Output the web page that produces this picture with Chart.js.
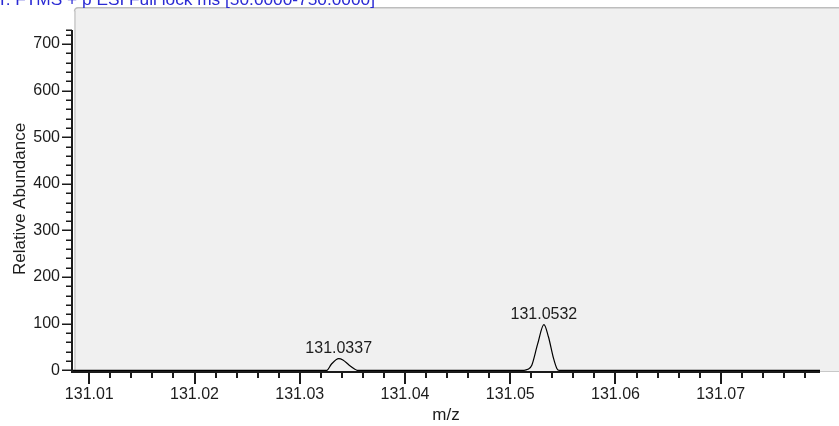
<!DOCTYPE html>
<html>
<head>
<meta charset="utf-8">
<title>Spectrum</title>
<script src="https://cdn.jsdelivr.net/npm/chart.js@4.4.1/dist/chart.umd.min.js"></script>
<style>
  html, body { margin: 0; padding: 0; background: #ffffff; }
  canvas { display: block; }
</style>
</head>
<body>
<canvas id="spectrum" width="839" height="426"></canvas>
<script>
// Profile trace (m/z vs relative abundance)
const mzValues        = [131.00836, 131.03257, 131.0330, 131.0337, 131.0341, 131.0347, 131.0352, 131.03545,
                         131.05132, 131.05167, 131.05205, 131.0526, 131.0532, 131.05363, 131.05411, 131.05443, 131.05465, 131.07944];
const abundanceValues = [0, 0, 13, 25, 22, 11, 3, 0,
                         0, 2, 11, 56, 98, 72, 26, 4, 0, 0];

// Labelled centroids
const peakMz        = [131.0337, 131.0532];
const peakAbundance = [25, 98];

// Axis ticks and labels
const xTickValues = [131.01, 131.02, 131.03, 131.04, 131.05, 131.06, 131.07];
const xTickLabels = ['131.01', '131.02', '131.03', '131.04', '131.05', '131.06', '131.07'];
const yTickValues = [0, 100, 200, 300, 400, 500, 600, 700];
const yTickLabels = ['0', '100', '200', '300', '400', '500', '600', '700'];

const scanFilter = 'T: FTMS + p ESI Full lock ms [50.0000-750.0000]';
const FONT = 'Arial, "Liberation Sans", sans-serif';
const TEXT = '#1c1c1c';

const xMin = 131.008356, xMax = 131.079437;
const yMin = -3.65, yMax = 779.5;
const yAxisEnd = 730;

// keep the plot area exactly where the layout padding puts it
function noScalePadding(s) {
  s.paddingTop = 0;
  s.paddingBottom = 0;
  s.paddingLeft = 0;
  s.paddingRight = 0;
}

const framePlugin = {
  id: 'frame',
  beforeDraw(chart) {
    const { ctx, chartArea: a, width, height } = chart;
    ctx.save();
    ctx.fillStyle = '#ffffff';
    ctx.fillRect(0, 0, width, height);

    // plot panel
    ctx.fillStyle = '#f0f0f0';
    ctx.beginPath();
    ctx.moveTo(a.left + 2, a.bottom);
    ctx.lineTo(a.left + 2, a.top + 4);
    ctx.arcTo(a.left + 2, a.top, a.left + 6, a.top, 4);
    ctx.lineTo(width, a.top);
    ctx.lineTo(width, a.bottom);
    ctx.closePath();
    ctx.fill();

    ctx.strokeStyle = '#d4d4d4';
    ctx.lineWidth = 2;
    ctx.beginPath();
    ctx.moveTo(a.left + 3, a.bottom);
    ctx.lineTo(a.left + 3, a.top + 4);
    ctx.stroke();

    ctx.strokeStyle = '#bdbdbd';
    ctx.lineWidth = 1.5;
    ctx.beginPath();
    ctx.moveTo(a.left + 2.5, a.top + 4);
    ctx.arcTo(a.left + 2.5, a.top + 0.75, a.left + 6, a.top + 0.75, 3.5);
    ctx.lineTo(width, a.top + 0.75);
    ctx.stroke();

    ctx.strokeStyle = '#c8c8c8';
    ctx.lineWidth = 1;
    ctx.beginPath();
    ctx.moveTo(a.right, a.bottom - 0.5);
    ctx.lineTo(width, a.bottom - 0.5);
    ctx.stroke();

    // scan header
    ctx.fillStyle = '#2a2ad4';
    ctx.font = '17.3px ' + FONT;
    ctx.textAlign = 'left';
    ctx.textBaseline = 'alphabetic';
    ctx.fillText(scanFilter, -3, 5);
    ctx.restore();
  },
  afterDraw(chart) {
    const { ctx, chartArea: a, scales: { x, y } } = chart;
    ctx.save();
    ctx.strokeStyle = '#1a1a1a';

    // y axis line and ticks
    const yTop = y.getPixelForValue(yAxisEnd);
    ctx.lineWidth = 2;
    ctx.beginPath();
    ctx.moveTo(a.left, yTop);
    ctx.lineTo(a.left, a.bottom + 1);
    ctx.stroke();
    ctx.lineWidth = 1.5;
    for (let v = 0; v <= yAxisEnd; v += 10) {
      if (v % 20 !== 0 && v !== yAxisEnd) continue;
      const py = Math.round(y.getPixelForValue(v)) + 0.25;
      const len = (v % 100 === 0) ? 10 : 6;
      ctx.beginPath();
      ctx.moveTo(a.left - len, py);
      ctx.lineTo(a.left, py);
      ctx.stroke();
    }

    // x axis line and ticks
    ctx.lineWidth = 2;
    ctx.beginPath();
    ctx.moveTo(a.left - 1, a.bottom);
    ctx.lineTo(a.right, a.bottom);
    ctx.stroke();
    for (let i = 0; i <= 34; i++) {
      const v = 131.010 + i * 0.002;
      const px = Math.round(x.getPixelForValue(v));
      const len = (i % 5 === 0) ? 12 : 6;
      ctx.beginPath();
      ctx.moveTo(px, a.bottom);
      ctx.lineTo(px, a.bottom + len);
      ctx.stroke();
    }

    // y axis title
    ctx.fillStyle = TEXT;
    ctx.font = '17px ' + FONT;
    ctx.save();
    ctx.translate(20, 199);
    ctx.rotate(-Math.PI / 2);
    ctx.textAlign = 'center';
    ctx.textBaseline = 'middle';
    ctx.fillText('Relative Abundance', 0, 0);
    ctx.restore();

    // peak annotations
    ctx.font = '16px ' + FONT;
    ctx.textAlign = 'center';
    ctx.textBaseline = 'alphabetic';
    peakMz.forEach((m, i) => {
      const px = x.getPixelForValue(m);
      const py = y.getPixelForValue(peakAbundance[i]);
      ctx.fillText(m.toFixed(4), px, py - 6);
    });
    ctx.restore();
  }
};

new Chart(document.getElementById('spectrum'), {
  type: 'line',
  data: {
    datasets: [{
      data: mzValues.map((m, i) => ({ x: m, y: abundanceValues[i] })),
      borderColor: '#000000',
      borderWidth: 1.2,
      pointRadius: 0,
      fill: false,
      cubicInterpolationMode: 'monotone'
    }]
  },
  options: {
    responsive: false,
    animation: false,
    devicePixelRatio: 1,
    layout: { padding: { top: 7, right: 19, left: 0, bottom: 0 } },
    plugins: { legend: { display: false }, tooltip: { enabled: false } },
    scales: {
      x: {
        type: 'linear',
        min: xMin,
        max: xMax,
        afterBuildTicks: s => { s.ticks = xTickValues.map(v => ({ value: v })); },
        afterFit: s => { s.height = 54; noScalePadding(s); },
        grid: { display: false, drawTicks: false },
        border: { display: false },
        ticks: {
          padding: 13,
          maxRotation: 0,
          autoSkip: false,
          color: TEXT,
          font: { family: FONT, size: 16 },
          callback: (v, i) => xTickLabels[i]
        },
        title: {
          display: true,
          text: 'm/z',
          color: TEXT,
          font: { family: FONT, size: 17 },
          padding: { top: 0, bottom: 0 }
        }
      },
      y: {
        type: 'linear',
        min: yMin,
        max: yMax,
        afterBuildTicks: s => { s.ticks = yTickValues.map(v => ({ value: v })); },
        afterFit: s => { s.width = 72; noScalePadding(s); },
        grid: { display: false, drawTicks: false },
        border: { display: false },
        ticks: {
          padding: 12,
          autoSkip: false,
          color: TEXT,
          font: { family: FONT, size: 16 },
          callback: (v, i) => yTickLabels[i]
        }
      }
    }
  },
  plugins: [framePlugin]
});
</script>
</body>
</html>
